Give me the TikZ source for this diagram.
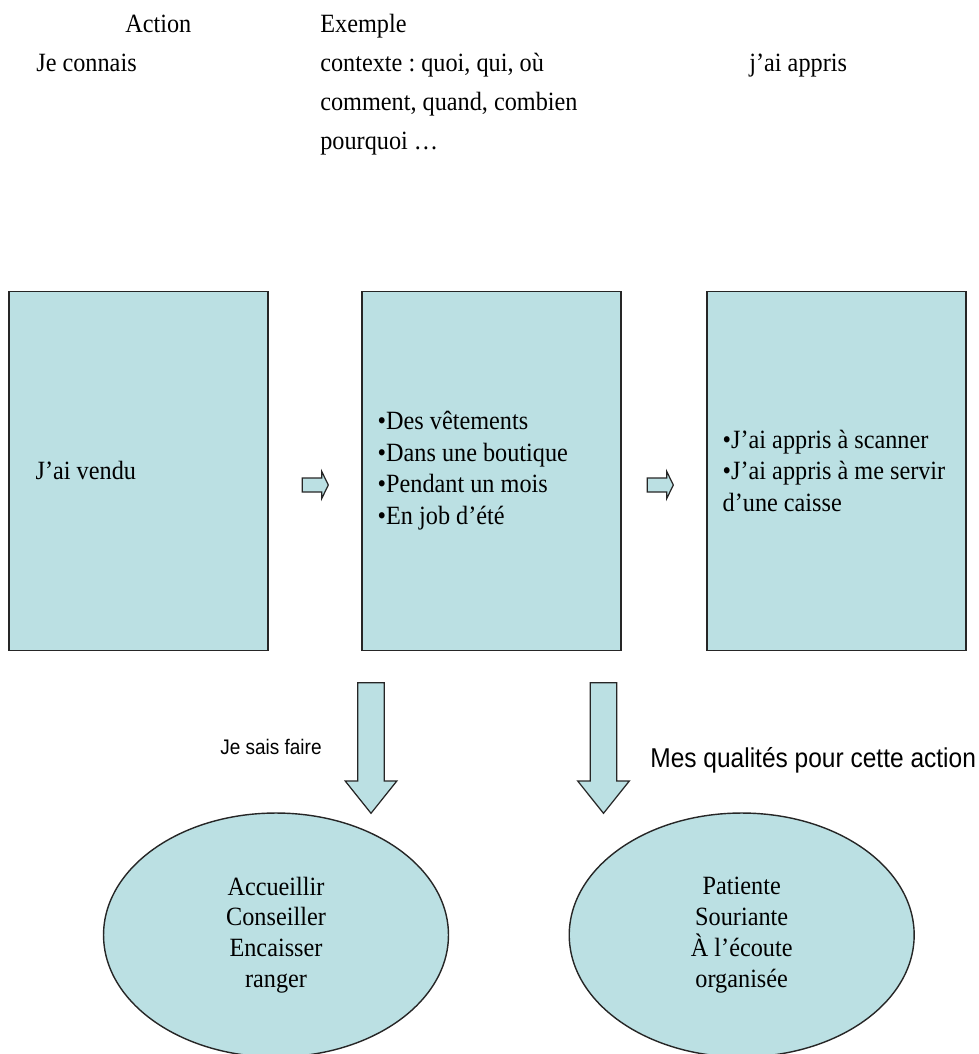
\documentclass[tikz,border=0pt]{standalone}
\usepackage{fontspec}
\setmainfont{Liberation Serif}[FakeStretch=0.92]
\setsansfont{Liberation Sans}[FakeStretch=0.9]
\usetikzlibrary{shapes.geometric}
\definecolor{bleupale}{RGB}{187,224,227}
\frenchspacing
\tikzset{
	boite/.style={draw=black!85, line width=0.8pt, fill=bleupale, minimum width=5.18cm, minimum height=7.18cm, inner sep=0},
	bulle/.style={ellipse, draw=black!85, line width=0.8pt, fill=bleupale, minimum width=6.9cm, minimum height=4.88cm, align=center, font=\fontsize{15}{17.5}\selectfont},
	fleche/.style={draw=black!85, line width=0.7pt, fill=bleupale, line join=miter},
	texte/.style={anchor=base west, inner sep=0, font=\fontsize{15}{17}\selectfont},
	liste/.style={anchor=west, inner sep=0, align=left, font=\fontsize{15}{18}\selectfont},
	legende/.style={anchor=base west, inner sep=0, font=\sffamily\fontsize{#1}{#1}\selectfont}
}
\newcommand{\flechedroite}[1]{\draw[fleche] (#1) ++(-26,-7) -- ++(19.4,0) -- ++(0,-6.6) -- (#1) -- ++(-6.6,13.6) -- ++(0,-6.6) -- ++(-19.4,0) -- cycle;}
\newcommand{\flechebas}[1]{\draw[fleche] (#1) ++(-13.3,-130.6) -- ++(26.6,0) -- ++(0,98.3) -- ++(12.5,0) -- (#1) -- ++(-25.8,-32.3) -- ++(12.5,0) -- cycle;}

\begin{document}
\begin{tikzpicture}[x=0.02cm, y=-0.02cm]
	%%%%% START %%%%%
	\useasboundingbox (0,0) rectangle (979,1054);
	
	% en-tetes
	\node[texte] (action) at (125, 33) {Action};
	\node[texte] (connais) at (36, 72) {Je connais};
	\node[texte] (titreexemple) at (320, 33) {Exemple};
	\node[texte] (contexte) at (320, 72) {contexte : quoi, qui, où};
	\node[texte] (comment) at (320, 111) {comment, quand, combien};
	\node[texte] (pourquoi) at (320, 150) {pourquoi …};
	\node[texte] (jaiappris) at (749, 72) {j’ai appris};
	
	% boites
	\node[boite] (vendu) at (138.5, 470.8) {};
	\node[boite] (exemple) at (491.5, 470.8) {};
	\node[boite] (appris) at (836.5, 470.8) {};
	
	\node[liste] (txtvendu) at ([xshift=0.54cm]vendu.west) {J’ai vendu};
	\node[liste] (txtexemple) at ([xshift=0.32cm]exemple.west) {•Des vêtements\\•Dans une boutique\\•Pendant un mois\\•En job d’été};
	\node[liste] (txtappris) at ([xshift=0.32cm]appris.west) {•J’ai appris à scanner\\•J’ai appris à me servir\\d’une caisse};
	
	% fleches
	\coordinate (d1) at (328.3, 485);
	\coordinate (d2) at (673.3, 485);
	\flechedroite{d1}
	\flechedroite{d2}
	
	\coordinate (b1) at (371, 813.3);
	\coordinate (b2) at (603.5, 813.3);
	\flechebas{b1}
	\flechebas{b2}
	
	\node[legende=12] (jesais) at (220, 754) {Je sais faire};
	\node[legende=15.5] (mesqualites) at (650, 767) {Mes qualités pour cette action};
	
	% bulles
	\node[bulle] (savoirfaire) at (276, 935) {Accueillir\\Conseiller\\Encaisser\\ranger};
	\node[bulle] (qualites) at (741.7, 935) {Patiente\\Souriante\\À l’écoute\\organisée};
	
	%%%%% END %%%%%
\end{tikzpicture}
\end{document}
